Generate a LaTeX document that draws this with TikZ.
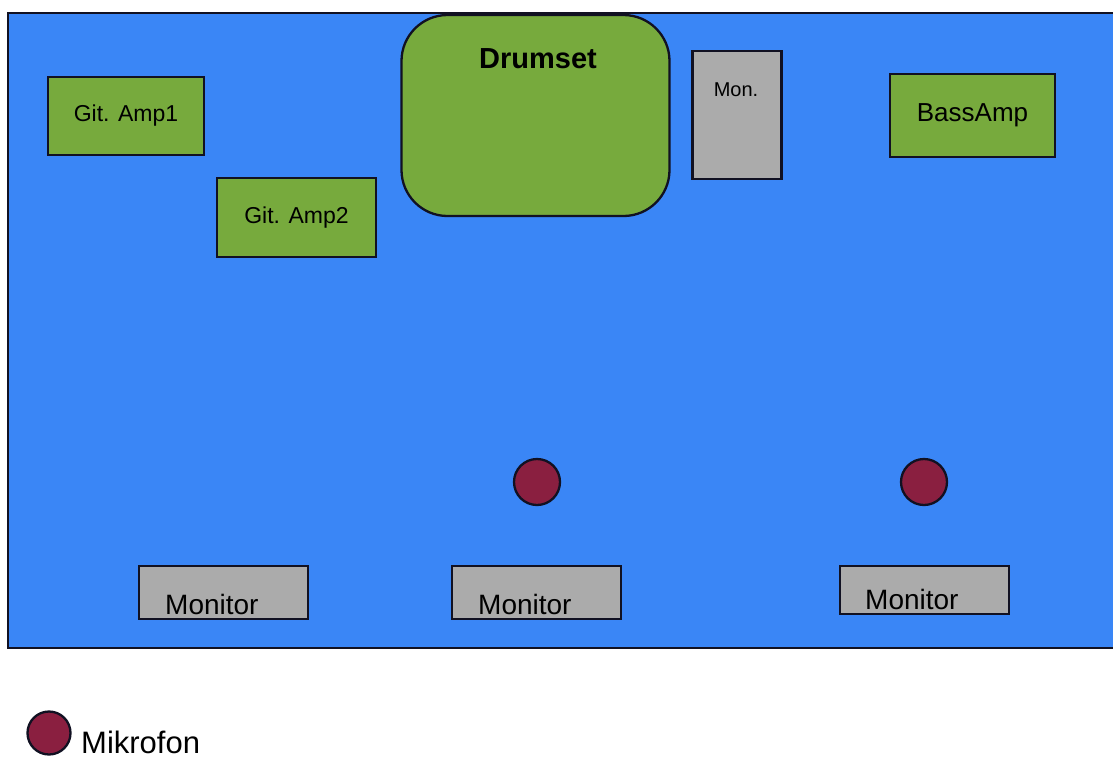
\documentclass[tikz,border=0pt]{standalone}
\usepackage{fontspec}
\setmainfont{Liberation Sans}
\definecolor{stageblue}{HTML}{3A86F6}
\definecolor{ampgreen}{HTML}{77AA3D}
\definecolor{mongray}{HTML}{ABABAB}
\definecolor{micred}{HTML}{8A1F40}
\definecolor{edge}{HTML}{111122}
\tikzset{
  box/.style={draw=edge, line width=2.3pt, inner sep=0pt, rectangle},
  amp/.style={box, fill=ampgreen},
  monbox/.style={box, fill=mongray},
  mic/.style={draw=edge, line width=2.3pt, circle, fill=micred, inner sep=0pt},
  fs/.style={font=\fontsize{#1}{#1}\selectfont}
}
\begin{document}
\begin{tikzpicture}[x=1pt,y=-1pt]
\useasboundingbox (0,0) rectangle (1113,758);
\clip (0,0) rectangle (1113,758);
% stage
\draw[draw=edge, line width=2.3pt, fill=stageblue] (8,13) rectangle (1116,648);
% amps
\node[amp, minimum width=156pt, minimum height=78pt, fs=23] (amp1) at (126,116) {Git. Amp1};
\node[amp, minimum width=159pt, minimum height=79pt, fs=23] (amp2) at (296.5,217.5) {Git. Amp2};
\node[amp, minimum width=165pt, minimum height=83pt, fs=26] (bass) at (972.5,115.5) {BassAmp};
% drumset
\node[amp, rounded corners=46pt, minimum width=268pt, minimum height=201pt] (drums) at (535.5,115.5) {};
\node[anchor=base, inner sep=0pt, font=\fontsize{29}{29}\selectfont\bfseries] (drumslbl) at (538,68) {Drumset};
% small monitor
\node[monbox, minimum width=89pt, minimum height=128pt] (mon) at (737,115) {};
\node[inner sep=0pt, fs=20] (monlbl) at (736,90) {Mon.};
% floor monitors
\node[monbox, minimum width=169pt, minimum height=53pt] (m1) at (223.5,592.5) {};
\node[anchor=base west, inner sep=0pt, fs=28] (m1lbl) at (165,614) {Monitor};
\node[monbox, minimum width=169pt, minimum height=53pt] (m2) at (536.5,592.5) {};
\node[anchor=base west, inner sep=0pt, fs=28] (m2lbl) at (478,614) {Monitor};
\node[monbox, minimum width=169pt, minimum height=48pt] (m3) at (924.5,590) {};
\node[anchor=base west, inner sep=0pt, fs=28] (m3lbl) at (865,609) {Monitor};
% mics
\node[mic, minimum size=46pt] (mic1) at (537,482) {};
\node[mic, minimum size=46pt] (mic2) at (924,482) {};
% legend
\node[mic, minimum size=43pt] (legmic) at (49,733) {};
\node[anchor=base west, inner sep=0pt, fs=31] (leglbl) at (81,753) {Mikrofon};
\end{tikzpicture}
\end{document}
